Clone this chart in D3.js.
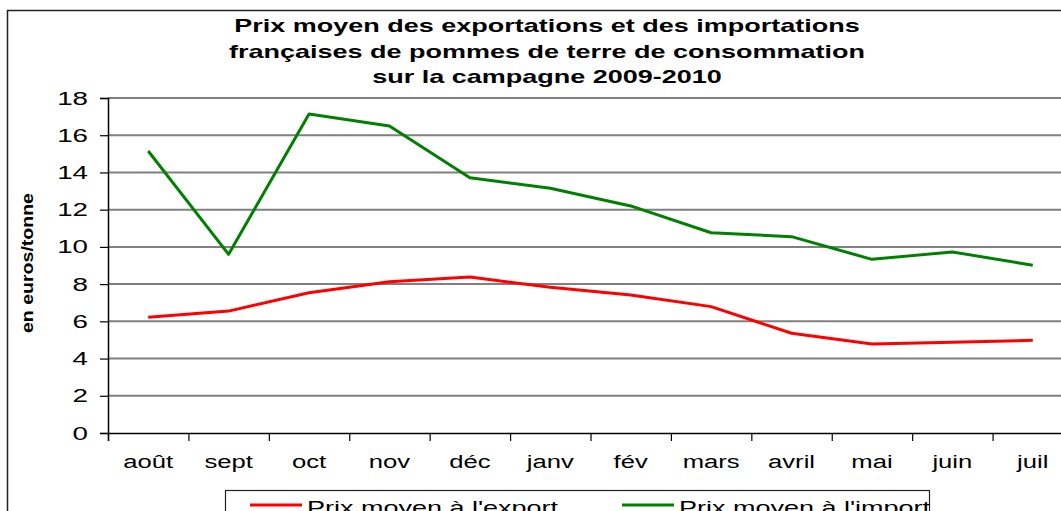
<!DOCTYPE html>
<html>
<head>
<meta charset="utf-8">
<script src="https://cdn.jsdelivr.net/npm/d3@7"></script>
<style>
  body { margin: 0; background: #fff; }
  svg { display: block; font-family: "Liberation Sans", Arial, sans-serif; }
  .grid line { stroke: #808080; stroke-width: 2; }
</style>
</head>
<body>
<svg width="1061" height="511"></svg>
<script>
var months = ["août", "sept", "oct", "nov", "déc", "janv", "fév", "mars", "avril", "mai", "juin", "juil"];
var exportPrix = [6.22, 6.55, 7.54, 8.13, 8.38, 7.83, 7.42, 6.79, 5.36, 4.78, 4.87, 4.98];
var importPrix = [15.15, 9.6, 17.14, 16.5, 13.72, 13.15, 12.2, 10.76, 10.55, 9.33, 9.73, 9.01];
var yTicks = [0, 2, 4, 6, 8, 10, 12, 14, 16, 18];
var titleLines = ["Prix moyen des exportations et des importations",
                  "françaises de pommes de terre de consommation",
                  "sur la campagne 2009-2010"];
var seriesNames = ["Prix moyen à l'export", "Prix moyen à l'import"];
var seriesColors = ["#ff0000", "#008000"];

var svg = d3.select("svg"),
    pLeft = 108, pRight = 1073, pTop = 98, pBottom = 433;

var x = d3.scaleBand().domain(months).range([pLeft, pRight]);
var xEdge = d3.scaleLinear().domain([0, months.length]).range([pLeft, pRight]);
var y = d3.scaleLinear().domain([0, 18]).range([pBottom, pTop]);

// texts in the reference are stretched wide, sx is the horizontal stretch
function stext(g, px, py, txt, size, sx, anchor, weight) {
    return g.append("text")
        .attr("transform", "translate(" + px + "," + py + ") scale(" + sx + ",1)")
        .attr("text-anchor", anchor || "middle")
        .attr("font-size", size)
        .attr("font-weight", weight || "normal")
        .attr("fill", "#000")
        .text(txt);
}

// outer chart border
svg.append("rect")
    .attr("x", 7.5).attr("y", 10.5)
    .attr("width", 1100).attr("height", 600)
    .attr("fill", "none").attr("stroke", "#222").attr("stroke-width", 1.5);

// title
titleLines.forEach(function(t, i) {
    stext(svg, 547, 32 + i * 25.5, t, 18, 1.5, "middle", "bold");
});

// gridlines
svg.append("g").attr("class", "grid")
    .selectAll("line").data(yTicks.filter(function(d) { return d > 0; }))
    .enter().append("line")
    .attr("x1", pLeft).attr("x2", pRight)
    .attr("y1", function(d) { return y(d); })
    .attr("y2", function(d) { return y(d); });

// y axis
var yAxis = svg.append("g")
    .attr("transform", "translate(" + pLeft + ",0)")
    .call(d3.axisLeft(y).tickValues(yTicks).tickSize(8).tickFormat(""));
yAxis.select(".domain").attr("stroke", "#000").attr("stroke-width", 1.5);
yAxis.selectAll(".tick line").attr("stroke", "#000").attr("stroke-width", 1.2);
yTicks.forEach(function(v) {
    stext(svg, 88, y(v) + 6.5, v, 18.5, 1.5, "end");
});

// y title
svg.append("text")
    .attr("transform", "translate(33,263) rotate(-90)")
    .attr("text-anchor", "middle")
    .attr("font-size", 17)
    .attr("font-weight", "bold")
    .attr("textLength", 140)
    .attr("lengthAdjust", "spacingAndGlyphs")
    .text("en euros/tonne");

// x axis
var xAxis = svg.append("g")
    .attr("transform", "translate(0," + pBottom + ")")
    .call(d3.axisBottom(xEdge).tickValues(d3.range(months.length + 1)).tickSize(8).tickFormat(""));
xAxis.select(".domain").attr("stroke", "#000").attr("stroke-width", 1.5);
xAxis.selectAll(".tick line").attr("stroke", "#000").attr("stroke-width", 1.2);
months.forEach(function(m) {
    stext(svg, x(m) + x.bandwidth() / 2, 468, m, 19, 1.35, "middle");
});

// lines
var line = d3.line()
    .x(function(d, i) { return x(months[i]) + x.bandwidth() / 2; })
    .y(function(d) { return y(d); });

[exportPrix, importPrix].forEach(function(s, i) {
    svg.append("path")
        .attr("d", line(s))
        .attr("fill", "none")
        .attr("stroke", seriesColors[i])
        .attr("stroke-width", 3)
        .attr("stroke-linejoin", "round");
});

// legend
var lg = svg.append("g");
lg.append("rect")
    .attr("x", 225.5).attr("y", 490.5)
    .attr("width", 704).attr("height", 40)
    .attr("fill", "#fff").attr("stroke", "#222").attr("stroke-width", 1.2);
var legX = [250, 622];
seriesNames.forEach(function(n, i) {
    lg.append("line")
        .attr("x1", legX[i]).attr("x2", legX[i] + 52)
        .attr("y1", 505).attr("y2", 505)
        .attr("stroke", seriesColors[i]).attr("stroke-width", 3);
    stext(lg, legX[i] + 57, 514, n, 19, 1.42, "start");
});
</script>
</body>
</html>
